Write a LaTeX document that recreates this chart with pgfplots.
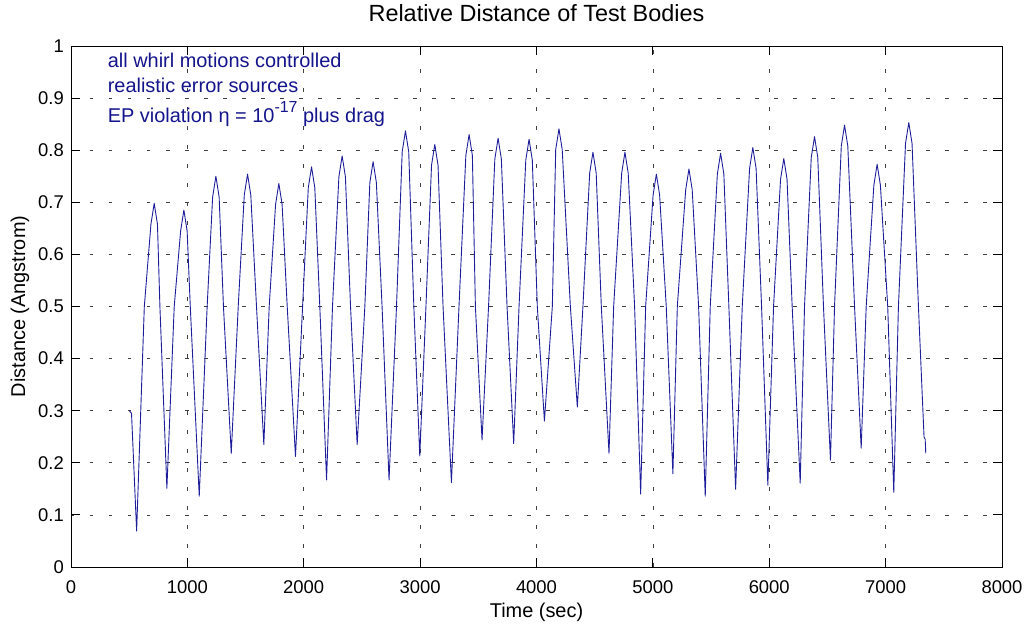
\documentclass[border=0pt]{standalone}
\usepackage{fontspec}
\setmainfont{Liberation Sans}
\usepackage{pgfplots}
\pgfplotsset{compat=1.18}
\definecolor{navy}{RGB}{20,20,140}
\definecolor{lineblue}{RGB}{30,30,155}
\begin{document}
\begin{tikzpicture}
\useasboundingbox (-71bp,-57bp) rectangle (956bp,567bp);
\begin{axis}[
  at={(0,0)}, anchor=south west,
  scale only axis, width=931bp, height=521bp,
  xmin=0, xmax=8000, ymin=0, ymax=1,
  xtick={0,1000,2000,3000,4000,5000,6000,7000,8000},
  ytick={0,0.1,0.2,0.3,0.4,0.5,0.6,0.7,0.8,0.9,1},
  scaled ticks=false,
  /pgf/number format/assume math mode=true,
  xticklabel style={/pgf/number format/1000 sep={}, anchor=base, yshift=-26bp, font=\fontsize{18.5}{20}\selectfont},
  yticklabel style={/pgf/number format/fixed, /pgf/number format/precision=1, anchor=east, inner sep=0pt, xshift=-7bp, font=\fontsize{18.5}{20}\selectfont},
  tick align=inside,
  major tick length=9bp,
  tick style={black, line width=0.8bp},
  axis line style={black, line width=0.8bp},
  grid=major,
  major grid style={black!75, line width=0.6bp, dash pattern=on 3.5bp off 15.5bp},
  title={Relative Distance of Test Bodies},
  title style={at={(axis description cs:0.5,1)}, anchor=base, yshift=19bp, font=\fontsize{23.5}{25}\selectfont},
  xlabel={Time (sec)},
  xlabel style={at={(axis description cs:0.5,0)}, anchor=base, yshift=-50bp, font=\fontsize{20}{22}\selectfont},
  ylabel={Distance (Angstrom)},
  ylabel style={at={([xshift=-51bp]axis description cs:0,0.5)}, anchor=center, rotate=0, font=\fontsize{20}{22}\selectfont},
]
\addplot[color=lineblue, line width=0.9bp, mark=none, line join=round] table {
x y
500 0.300
520 0.295
564 0.069
630 0.500
687 0.658
715 0.698
743 0.658
764 0.500
824 0.151
887 0.500
942 0.645
970 0.685
998 0.645
1025 0.500
1102 0.136
1170 0.500
1217 0.710
1245 0.750
1273 0.710
1310 0.500
1377 0.218
1437 0.500
1489 0.714
1517 0.754
1545 0.714
1594 0.500
1657 0.235
1703 0.500
1758 0.696
1786 0.736
1814 0.696
1858 0.500
1929 0.212
1990 0.500
2039 0.728
2067 0.768
2095 0.728
2138 0.500
2196 0.167
2247 0.500
2302 0.749
2330 0.789
2358 0.749
2402 0.500
2459 0.235
2525 0.500
2568 0.738
2596 0.778
2624 0.738
2673 0.500
2733 0.167
2797 0.500
2846 0.797
2874 0.837
2902 0.797
2946 0.500
2997 0.213
3050 0.500
3098 0.771
3126 0.811
3154 0.771
3197 0.500
3269 0.162
3334 0.500
3393 0.790
3421 0.830
3449 0.790
3475 0.500
3532 0.244
3588 0.500
3642 0.783
3670 0.823
3698 0.783
3747 0.500
3804 0.237
3850 0.500
3908 0.781
3936 0.821
3964 0.781
4007 0.500
4068 0.280
4136 0.500
4165 0.801
4193 0.841
4221 0.801
4291 0.500
4351 0.307
4399 0.500
4457 0.756
4485 0.796
4513 0.756
4557 0.500
4623 0.218
4663 0.500
4732 0.756
4760 0.796
4788 0.756
4843 0.500
4895 0.140
4938 0.500
5002 0.714
5030 0.754
5058 0.714
5115 0.500
5172 0.179
5210 0.500
5282 0.724
5310 0.764
5338 0.724
5393 0.500
5450 0.136
5493 0.500
5554 0.754
5582 0.794
5610 0.754
5653 0.500
5711 0.149
5768 0.500
5831 0.765
5859 0.805
5887 0.765
5934 0.500
5988 0.157
6037 0.500
6097 0.744
6125 0.784
6153 0.744
6197 0.500
6266 0.161
6303 0.500
6361 0.786
6389 0.826
6417 0.786
6466 0.500
6526 0.205
6561 0.500
6619 0.808
6647 0.848
6675 0.808
6733 0.500
6790 0.228
6833 0.500
6899 0.733
6927 0.773
6955 0.733
7018 0.500
7070 0.143
7110 0.500
7171 0.813
7199 0.853
7227 0.813
7282 0.500
7330 0.250
7340 0.245
7345 0.218
};
\node[anchor=base west, inner sep=0pt, text=navy, font=\fontsize{20}{22}\selectfont] at (axis cs:315,0.958) {all whirl motions controlled};
\node[anchor=base west, inner sep=0pt, text=navy, font=\fontsize{20}{22}\selectfont] at (axis cs:315,0.910) {realistic error sources};
\node[anchor=base west, inner sep=0pt, text=navy, font=\fontsize{20}{22}\selectfont] at (axis cs:315,0.853) {EP violation η = 10\raisebox{0.5em}{\fontsize{16}{16}\selectfont -17} plus drag};
\end{axis}
\end{tikzpicture}
\end{document}
